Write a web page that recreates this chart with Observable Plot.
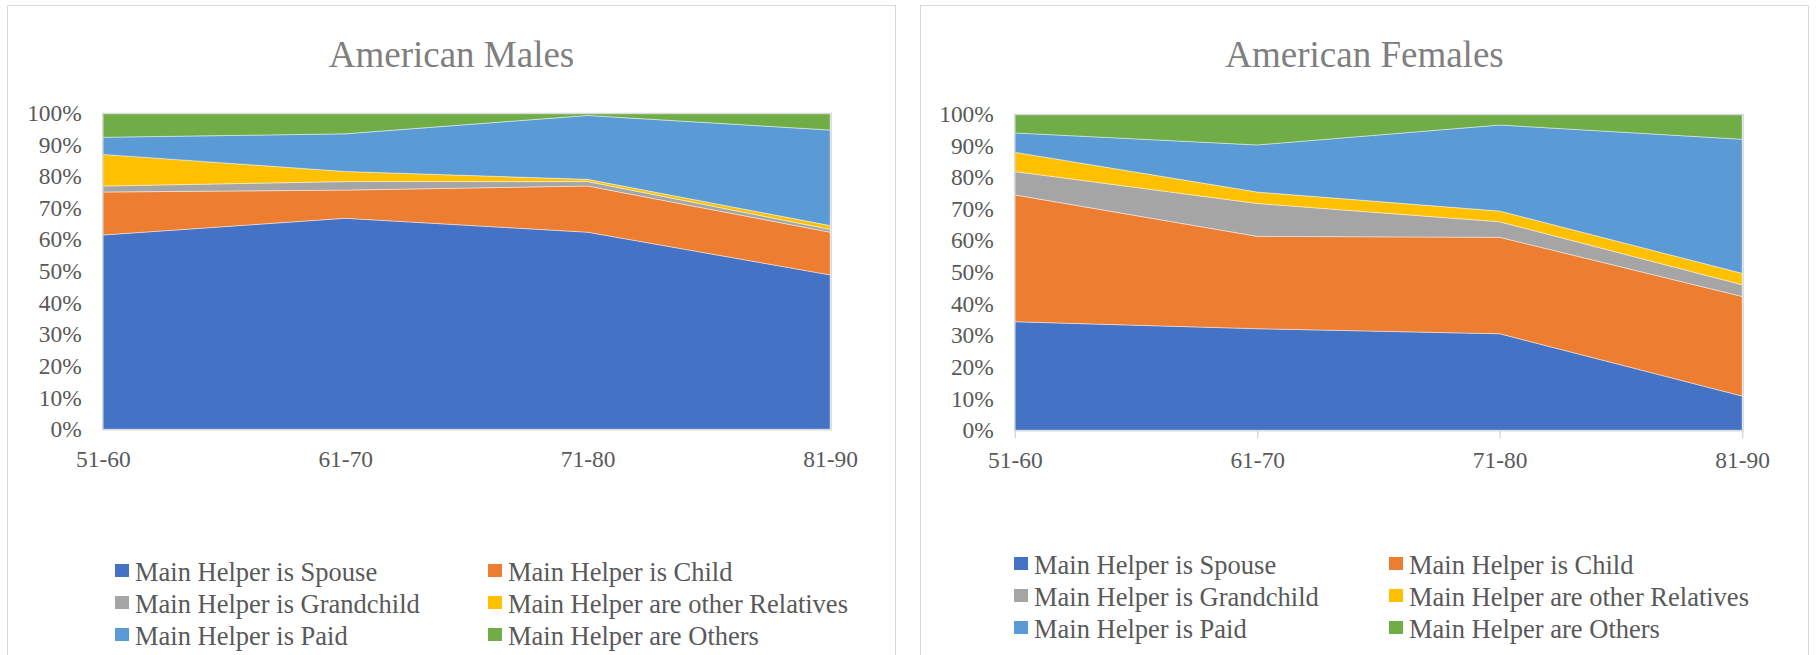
<!DOCTYPE html>
<html>
<head>
<meta charset="utf-8">
<script src="https://cdn.jsdelivr.net/npm/d3@7"></script>
<script src="https://cdn.jsdelivr.net/npm/@observablehq/plot@0.6"></script>
<style>
  html, body { margin: 0; padding: 0; background: #fff; }
  #root { position: relative; width: 1817px; height: 655px; overflow: hidden; background: #fff; }
  .panel { position: absolute; top: 5px; width: 889px; height: 700px; border: 1.5px solid #d9d9d9; box-sizing: border-box; background: #fff; }
  .title { position: absolute; left: 0; width: 100%; text-align: center; font-family: 'Liberation Serif', serif; font-size: 37px; line-height: 37px; color: #7f7f7f; white-space: nowrap; }
  .chart { position: absolute; left: 0; }
  .legend { position: absolute; font-family: 'Liberation Serif', serif; font-size: 26.5px; color: #595959; }
  .item { position: absolute; height: 32px; line-height: 32px; white-space: nowrap; }
  .sw { position: absolute; width: 14px; height: 13px; }
  .lab { position: absolute; }
</style>
</head>
<body>
<div id="root"></div>
<script>
const ages = ["51-60", "61-70", "71-80", "81-90"];
const seriesNames = [
  "Main Helper is Spouse",
  "Main Helper is Child",
  "Main Helper is Grandchild",
  "Main Helper are other Relatives",
  "Main Helper is Paid",
  "Main Helper are Others"
];
const seriesColors = ["#4472C4", "#ED7D31", "#A5A5A5", "#FFC000", "#5B9BD5", "#70AD47"];
const yTicks = [0, 10, 20, 30, 40, 50, 60, 70, 80, 90, 100];

// American Males (percent share per age group)
const maleSpouse     = [61.4, 66.7, 62.3, 48.8];
const maleChild      = [13.6,  8.9, 14.6, 13.5];
const maleGrandchild = [ 1.9,  2.7,  1.4,  0.9];
const maleRelatives  = [10.0,  3.2,  0.7,  1.2];
const malePaid       = [ 5.4, 11.9, 20.2, 30.2];
const maleOthers     = [ 7.7,  6.6,  0.8,  5.4];

// American Females (percent share per age group)
const femaleSpouse     = [34.3, 32.1, 30.5, 10.8];
const femaleChild      = [40.1, 29.2, 30.5, 31.5];
const femaleGrandchild = [ 7.4, 10.4,  4.9,  3.7];
const femaleRelatives  = [ 6.1,  3.6,  3.4,  3.6];
const femalePaid       = [ 6.1, 14.9, 27.2, 42.4];
const femaleOthers     = [ 6.0,  9.8,  3.5,  8.0];

const maleSeries = [maleSpouse, maleChild, maleGrandchild, maleRelatives, malePaid, maleOthers];
const femaleSeries = [femaleSpouse, femaleChild, femaleGrandchild, femaleRelatives, femalePaid, femaleOthers];

function toRows(list) {
  const rows = [];
  list.forEach((vals, si) => {
    vals.forEach((v, ai) => rows.push({age: ages[ai], series: seriesNames[si], value: v}));
  });
  return rows;
}

function makeChart(rows, opts) {
  return Plot.plot({
    width: 889,
    height: opts.height,
    marginLeft: opts.ml,
    marginRight: opts.mr,
    marginTop: opts.mt,
    marginBottom: opts.mb,
    style: {fontFamily: "'Liberation Serif', serif", fontSize: "23.5px", color: "#595959", background: "transparent"},
    x: {type: "point", domain: ages, padding: 0, label: null},
    y: {domain: [0, 100], label: null},
    color: {domain: seriesNames, range: seriesColors},
    marks: [
      Plot.areaY(rows, {x: "age", y: "value", fill: "series", z: "series", stroke: "#ffffff", strokeOpacity: 0.55, strokeWidth: 0.8}),
      Plot.frame({stroke: "#d9d9d9", strokeWidth: 1.5}),
      Plot.axisY({ticks: yTicks, tickFormat: d => d + "%", tickSize: 0, tickPadding: 21, fill: "#595959", fontSize: 23.5, label: null}),
      Plot.axisX({tickSize: opts.tickSize, tickPadding: opts.tickPadding, stroke: "#d9d9d9", strokeWidth: 1.5, fill: "#595959", fontSize: 23.5, label: null})
    ]
  });
}

function buildPanel(left, titleText, list, cfg) {
  const root = document.getElementById("root");
  const panel = document.createElement("div");
  panel.className = "panel";
  panel.style.left = left + "px";
  root.appendChild(panel);

  const title = document.createElement("div");
  title.className = "title";
  title.style.top = (35 - 5) + "px";
  title.textContent = titleText;
  panel.appendChild(title);

  const chartWrap = document.createElement("div");
  chartWrap.className = "chart";
  chartWrap.style.top = (cfg.svgTop - 5) + "px";
  chartWrap.appendChild(makeChart(toRows(list), cfg));
  panel.appendChild(chartWrap);

  const legend = document.createElement("div");
  legend.className = "legend";
  legend.style.left = "0px";
  legend.style.top = (cfg.legendTop - 5) + "px";
  seriesNames.forEach((name, i) => {
    const col = i % 2, row = Math.floor(i / 2);
    const item = document.createElement("div");
    item.className = "item";
    item.style.left = (col === 0 ? cfg.col1 : cfg.col2) - left + "px";
    item.style.top = (row * 32) + "px";
    const sw = document.createElement("div");
    sw.className = "sw";
    sw.style.background = seriesColors[i];
    sw.style.left = "0px";
    sw.style.top = "8px";
    const lab = document.createElement("div");
    lab.className = "lab";
    lab.style.left = "20px";
    lab.style.top = "0px";
    lab.textContent = name;
    item.appendChild(sw);
    item.appendChild(lab);
    legend.appendChild(item);
  });
  panel.appendChild(legend);
}

// Left panel: plot area x 103..833, y 112..429
buildPanel(7, "American Males", maleSeries, {
  svgTop: 90, height: 399, mt: 22, mb: 60, ml: 96 - 1.5, mr: 889 - (833 - 7) + 1.5,
  tickSize: 0, tickPadding: 21, legendTop: 555, col1: 114, col2: 487
});
// Right panel: plot area x 1015..1745, y 113..430
buildPanel(920, "American Females", femaleSeries, {
  svgTop: 91, height: 399, mt: 22, mb: 60, ml: 95 - 1.5, mr: 889 - (1745 - 920) + 1.5,
  tickSize: 8, tickPadding: 13, legendTop: 548, col1: 1013, col2: 1388
});
</script>
</body>
</html>
